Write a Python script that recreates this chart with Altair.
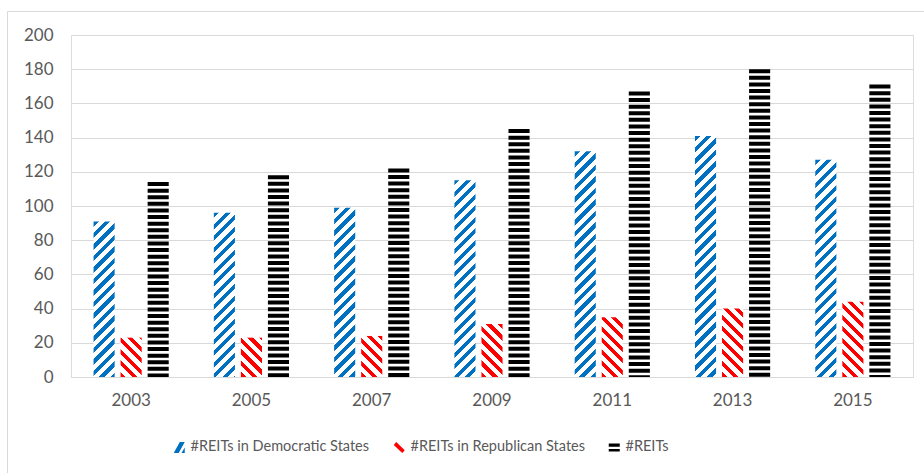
import altair as alt
import pandas as pd

# ---- data ----
years = ["2003", "2005", "2007", "2009", "2011", "2013", "2015"]
dem = [91, 96, 99, 115, 132, 141, 127]
rep = [23, 23, 24, 31, 35, 40, 44]
total = [114, 118, 122, 145, 167, 180, 171]
series = ["#REITs in Democratic States", "#REITs in Republican States", "#REITs"]
colors = ["#0070C0", "#FF0000", "#000000"]
y_ticks = list(range(0, 201, 20))

# ---- layout / style ----
W, H = 842, 342
YMAX = 200
PI_X, PO_X = 0.375, 0.1875
PI_O = 0.22
step = W / (len(years) - PI_X + 2 * PO_X)
band = step * (1 - PI_X)
bar_w = band / (3 - PI_O) * (1 - PI_O)
TXT = "#595959"
GRID = "#d9d9d9"
FONT = "Lato"

df = pd.DataFrame({
    "year": years * 3,
    "series": [s for s in series for _ in years],
    "value": dem + rep + total,
})

x_enc = alt.X("year:N", scale=alt.Scale(domain=years, paddingInner=PI_X, paddingOuter=PO_X),
              axis=alt.Axis(title=None, labelAngle=0, ticks=False, domain=True, domainColor=GRID,
                            grid=False, labelPadding=15, labelFontSize=17, labelColor=TXT, labelFont=FONT))
xo_enc = alt.XOffset("series:N", scale=alt.Scale(domain=series, paddingInner=PI_O, paddingOuter=0))
y_enc = alt.Y("value:Q", scale=alt.Scale(domain=[0, YMAX], nice=False),
              axis=alt.Axis(title=None, values=y_ticks, ticks=False, domain=False, grid=True,
                            gridColor=GRID, labelPadding=18, labelFontSize=17, labelColor=TXT,
                            labelFont=FONT))


def stripe_stops(color, span, period, duty):
    stops = []
    pt = period / span
    k = 0
    while k * pt < 1:
        a = k * pt
        b = min(1.0, a + duty * pt)
        c = min(1.0, (k + 1) * pt)
        stops += [alt.GradientStop(offset=a, color=color), alt.GradientStop(offset=b, color=color),
                  alt.GradientStop(offset=b, color="#ffffff"), alt.GradientStop(offset=c, color="#ffffff")]
        k += 1
    return stops


def diag_gradient(color, value, up):
    w = bar_w
    h = value / YMAX * H
    c = (w + h) / (w * w + h * h)
    stops = stripe_stops(color, w + h, 11.5, 0.45)
    if up:  # "/" stripes
        return alt.LinearGradient(gradient="linear", stops=stops, x1=0, y1=0, x2=c * w, y2=c * h)
    return alt.LinearGradient(gradient="linear", stops=stops, x1=0, y1=1, x2=c * w, y2=1 - c * h)


base = alt.Chart(df)
layers = []
for s_idx, vals in enumerate([dem, rep]):
    for yr, v in zip(years, vals):
        layers.append(
            base.transform_filter((alt.datum.year == yr) & (alt.datum.series == series[s_idx]))
            .mark_bar(fill=diag_gradient(colors[s_idx], v, s_idx == 0), stroke=None)
            .encode(x=x_enc, xOffset=xo_enc, y=y_enc)
        )

black = (
    base.transform_filter(alt.datum.series == series[2])
    .mark_rule(color="#000000", strokeWidth=bar_w, strokeDash=[4, 2.6])
    .encode(x=x_enc, xOffset=xo_enc, y=y_enc, y2=alt.datum(0))
)
layers.append(black)

shapes = [
    "M-1,1 L0.1,-1 L1,-1 L-0.1,1 Z M0.4,1 L1,0 L1,1 Z",
    "M-1,-0.45 L-0.55,-1 L1,0.5 L0.55,1 Z",
    "M-1,-0.7 H1 V-0.1 H-1 Z M-1,0.3 H1 V0.75 H-1 Z",
]
# legend carrier: points placed off-canvas, only the legend is visible
legend_layer = (
    base.mark_point(filled=True, size=1, opacity=1)
    .encode(
        x=alt.value(-2000), y=alt.value(-2000),
        color=alt.Color("series:N", scale=alt.Scale(domain=series, range=colors),
                        legend=alt.Legend(title=None, orient="none", legendX=101, legendY=405,
                                          direction="horizontal", symbolSize=121, symbolOpacity=1,
                                          symbolStrokeWidth=0, labelFontSize=14.5, labelColor=TXT,
                                          labelFont=FONT, labelLimit=400, columnPadding=22,
                                          labelOffset=4, padding=0)),
        shape=alt.Shape("series:N", scale=alt.Scale(domain=series, range=shapes)),
    )
)
layers.append(legend_layer)

frame = alt.Chart(pd.DataFrame({"a": [0]}))
border_left = frame.mark_rule(color=GRID, strokeWidth=1).encode(
    x=alt.value(-63.5), y=alt.value(-23.5), y2=alt.value(H + 110))
border_top = frame.mark_rule(color=GRID, strokeWidth=1).encode(
    x=alt.value(-63.5), x2=alt.value(W + 20), y=alt.value(-23.5))
layers = [border_left, border_top] + layers

chart = (
    alt.layer(*layers)
    .properties(width=W, height=H, autosize=alt.AutoSizeParams(type="none"),
                padding={"left": 71, "top": 35, "right": 924 - 71 - W, "bottom": 473 - 35 - H},
                background="#ffffff")
    .configure_view(stroke=None)
    .configure(font=FONT)
)

chart.save("out.html", embed_options={"renderer": "svg", "actions": False})
